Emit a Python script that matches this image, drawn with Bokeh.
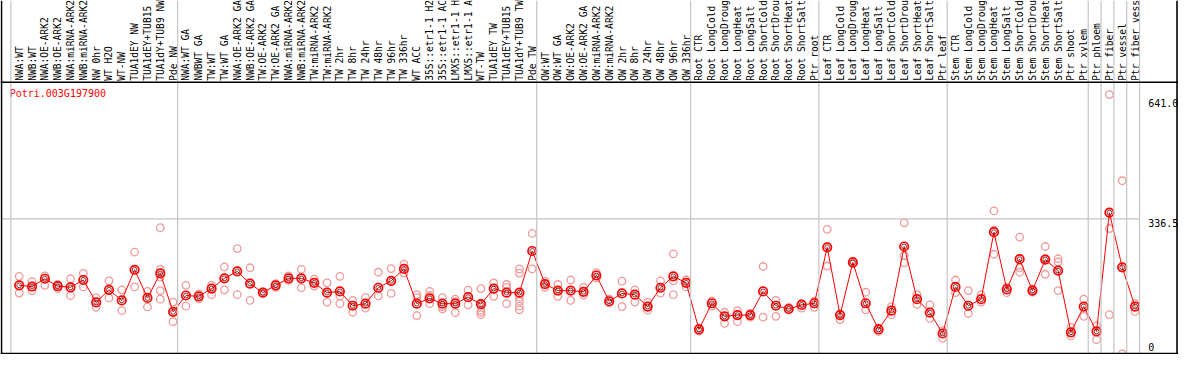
import numpy as np
from bokeh.plotting import figure
from bokeh.models import Range1d, Span, ColumnDataSource
from bokeh.embed import file_html
from bokeh.resources import INLINE
from bokeh.core.properties import value

# ---------------- data ----------------
gene_id = "Potri.003G197900"

labels = [
    "NWA:WT", "NWB:WT", "NWA:OE-ARK2", "NWB:OE-ARK2", "NWA:miRNA-ARK2", "NWB:miRNA-ARK2",
    "NW 0hr", "WT H2O", "WT-NW", "TUA1dEY NW", "TUA1dEY+TUB15", "TUA1dY+TUB9 NW", "Pde NW",
    "NWA:WT GA", "NWBWT GA", "TW:WT", "TW:WT GA", "NWA:OE-ARK2 GA", "NWB:OE-ARK2 GA",
    "TW:OE-ARK2", "TW:OE-ARK2 GA", "NWA:miRNA-ARK2", "NWB:miRNA-ARK2", "TW:miRNA-ARK2",
    "TW:miRNA-ARK2", "TW 2hr", "TW 8hr", "TW 24hr", "TW 48hr", "TW 96hr", "TW 336hr",
    "WT ACC", "35S::etr1-1 H2", "35S::etr1-1 AC", "LMX5::etr1-1 H", "LMX5::etr1-1 A",
    "WT-TW", "TUA1dEY TW", "TUA1dEY+TUB15", "TUA1dY+TUB9 TW", "Pde TW",
    "OW:WT", "OW:WT GA", "OW:OE-ARK2", "OW:OE-ARK2 GA", "OW:miRNA-ARK2", "OW:miRNA-ARK2",
    "OW 2hr", "OW 8hr", "OW 24hr", "OW 48hr", "OW 96hr", "OW 336hr",
    "Root CTR", "Root LongCold", "Root LongDroug", "Root LongHeat", "Root LongSalt",
    "Root ShortCold", "Root ShortDrou", "Root ShortHeat", "Root ShortSalt", "Ptr root",
    "Leaf CTR", "Leaf LongCold", "Leaf LongDroug", "Leaf LongHeat", "Leaf LongSalt",
    "Leaf ShortCold", "Leaf ShortDrou", "Leaf ShortHeat", "Leaf ShortSalt", "Ptr leaf",
    "Stem CTR", "Stem LongCold", "Stem LongDroug", "Stem LongHeat", "Stem LongSalt",
    "Stem ShortCold", "Stem ShortDrou", "Stem ShortHeat", "Stem ShortSalt", "Ptr shoot",
    "Ptr xylem", "Ptr phloem", "Ptr fiber", "Ptr vessel", "Ptr fiber vess",
]

group_sizes = [13, 28, 12, 10, 10, 11, 1, 1, 1, 1]

means = [
    174, 171, 190, 172, 169, 187, 132, 163, 137, 212, 143, 203, 109,
    149, 147, 166, 191, 208, 178, 156, 174, 191, 191, 180, 156, 159, 124, 129,
    168, 185, 214, 129, 142, 129, 129, 145, 128, 166, 156, 156, 258,
    177, 161, 161, 158, 198, 135, 154, 151, 122, 168, 196, 180,
    66, 130, 98, 101, 101, 159, 124, 116, 126, 130,
    267, 101, 230, 130, 66, 112, 269, 140, 107, 56,
    170, 124, 140, 304, 164, 238, 161, 237, 210, 59, 122,
    61, 352, 218, 122,
]

replicates = [
    [196, 155], [183, 161], [197, 174], [176, 166], [190, 149], [203, 170],
    [143, 120], [185, 143], [163, 112], [255, 170], [159, 121],
    [315, 213, 194, 161, 140], [133, 85],
    [174, 123], [153, 141], [174, 151], [219, 163], [264, 151], [217, 137],
    [158, 154], [178, 169], [197, 186], [213, 168], [189, 172], [180, 133],
    [196, 148, 129], [137, 108], [144, 118], [206, 148], [215, 154], [226, 204],
    [151, 144, 100], [159, 149, 129], [144, 122, 116], [140, 134, 107], [162, 126],
    [166, 113, 108, 102], [180, 147], [176, 169, 129], [214, 204, 145, 135, 123, 114],
    [301, 214],
    [184, 169], [176, 147], [187, 137], [169, 150], [205, 192], [140, 131],
    [184, 122], [163, 133], [133, 113], [185, 155], [251, 185, 151], [187, 170],
    [62, 69], [136, 123], [108, 81], [112, 85], [105, 96], [220, 96],
    [137, 98], [120, 114], [130, 118], [135, 120],
    [311, 221], [104, 90], [233, 227], [157, 114], [70, 61], [122, 102],
    [327, 247, 229], [151, 127], [126, 93], [63, 44],
    [187, 156], [161, 105], [151, 133], [356, 309, 250], [169, 156],
    [292, 217, 206], [165, 157], [269, 239, 201], [239, 231, 161], [71, 50],
    [140, 98], [75, 41], [641, 313, 102], [430, 6], [129, 110],
]

tick_values = [0, 336.5, 641.0]
tick_labels = ["0", "336.5", "641.0"]

# ---------------- layout (reference pixel geometry -> data units) ----------------
W, H = 1178, 354
REF_W, REF_H = 1194, 370
COL_PX = 13.0
X0_PX = 10.5
PX_PER_UNIT = 0.42693
ZERO_PX = 371.96
PT_OFF = 0.65


def ux(px):
    return (px - X0_PX) / COL_PX


def vy(py):
    return (ZERO_PX - py) / PX_PER_UNIT


p = figure(
    width=W, height=H,
    x_range=Range1d(ux(0), ux(REF_W)),
    y_range=Range1d(vy(REF_H), vy(0)),
    output_backend="svg", toolbar_location=None,
    x_axis_location=None, y_axis_location=None,
    min_border=0, outline_line_color=None,
    background_fill_color="white", border_fill_color="white",
)
p.grid.grid_line_color = None

GREY = "#c4c4c4"
bounds = np.concatenate([[0], np.cumsum(group_sizes)])
for b in bounds:
    p.add_layout(Span(location=float(b), dimension="height", line_color=GREY, line_width=1.2))

# mid gridline
p.segment(x0=[ux(1)], y0=[tick_values[1]], x1=[float(bounds[-1])], y1=[tick_values[1]],
          line_color=GREY, line_width=1.2)

# black frame lines
for loc, dim in [(ux(1), "height"), (ux(1192.5), "height"), (vy(85.5), "width"), (vy(369), "width")]:
    p.add_layout(Span(location=loc, dimension=dim, line_color="black", line_width=1.6))

xs = np.arange(len(labels)) + PT_OFF

# header labels
p.text(x=xs, y=[vy(84)] * len(labels), text=labels, angle=np.pi / 2,
       text_align="left", text_baseline="middle",
       text_font=value("DejaVu Sans Mono"), text_font_size="9.6px", text_color="black")

# gene id
p.text(x=[ux(9.3)], y=[vy(97)], text=[gene_id], text_align="left", text_baseline="middle",
       text_font=value("DejaVu Sans Mono"), text_font_size="10px", text_color="#ff0000")

# value labels
tick_src = ColumnDataSource(dict(x=[ux(1163.3)] * 3, y=tick_values, t=tick_labels, dy=[-9.5, 4.5, 8]))
p.text(x="x", y="y", text="t", y_offset="dy", source=tick_src, text_align="left",
       text_baseline="middle", text_font=value("DejaVu Sans Mono"), text_font_size="10px",
       text_color="black")

# replicate points
rx = [xs[i] for i, r in enumerate(replicates) for _ in r]
ry = [v for r in replicates for v in r]
p.scatter(x=rx, y=ry, marker="circle", size=7.5, fill_color=None, line_color="#ef9a9a", line_width=1.3)

# mean line and markers
p.line(x=xs, y=means, line_color="#ff0000", line_width=1)
p.scatter(x=xs, y=means, marker="circle", size=8.5, fill_color=None, line_color="#ff0000", line_width=1.7)
p.scatter(x=xs, y=means, marker="circle", size=4.8, fill_color=None, line_color="#700000", line_width=0.8)

open("out.html", "w").write(file_html(p, INLINE, title=gene_id))
